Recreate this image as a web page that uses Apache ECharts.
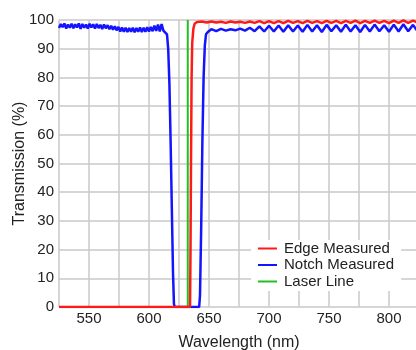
<!DOCTYPE html>
<html>
<head>
<meta charset="utf-8">
<script src="https://cdn.jsdelivr.net/npm/echarts@6/dist/echarts.min.js"></script>
<style>
html,body{margin:0;padding:0;background:#fff;}
#chart{width:416px;height:350px;}
</style>
</head>
<body>
<div id="chart"></div>
<script>
// ---- data ----
const seriesNames = ['Edge Measured', 'Notch Measured', 'Laser Line'];
const xTickValues = [550, 600, 650, 700, 750, 800];
const yTickValues = [0, 10, 20, 30, 40, 50, 60, 70, 80, 90, 100];

const edgeWl = [525, 634.2, 634.6, 635.0, 635.5, 636.0, 637.0, 638.0, 640,
  644, 648, 652, 656, 660, 664, 668, 672, 676, 680, 684, 688, 692, 696, 700,
  704, 708, 712, 716, 720, 724, 728, 732, 736, 740, 744, 748, 752, 756, 760,
  764, 768, 772, 776, 780, 784, 788, 792, 796, 800, 804, 808, 812, 816, 820, 824];
const edgeT = [0, 0, 20, 50, 80, 92, 97, 98.7, 99.3,
  99.5, 99.1, 99.5, 99.1, 99.4, 99.0, 99.5, 99.1, 99.4, 99.0, 99.5, 99.0, 99.6, 98.9, 99.6,
  98.9, 99.6, 98.9, 99.7, 99.0, 99.6, 98.9, 99.7, 99.0, 99.6, 98.9, 99.7, 99.0, 99.7, 98.9,
  99.7, 99.0, 99.8, 98.9, 99.7, 99.0, 99.8, 99.0, 99.7, 98.9, 99.8, 99.0, 99.9, 99.0, 99.8, 99.1];

// notch: noisy pass band below the notch
const notchBandWl = [525, 526.5, 528, 529.5, 531, 532.5, 534, 535.5, 537, 538.5,
  540, 541.5, 543, 544.5, 546, 547.5, 549, 550.5, 552, 553.5,
  555, 556.5, 558, 559.5, 561, 562.5, 564, 565.5, 567, 568.5,
  570, 571.5, 573, 574.5, 576, 577.5, 579, 580.5, 582, 583.5,
  585, 586.5, 588, 589.5, 591, 592.5, 594, 595.5, 597, 598.5,
  600, 601.5, 603, 604.5, 606, 607.5, 609, 610.5, 612];
const notchBandT = [97.2, 98.6, 97.5, 98.8, 97.0, 98.4, 97.3, 98.7, 97.1, 98.5,
  97.4, 98.8, 96.9, 98.6, 97.3, 98.4, 97.0, 98.7, 97.4, 98.5,
  97.0, 98.6, 97.2, 98.3, 96.9, 98.4, 97.1, 98.2, 96.8, 98.0,
  96.6, 97.8, 96.4, 97.6, 96.0, 97.4, 95.9, 97.3, 95.8, 97.2,
  95.9, 97.3, 95.7, 97.2, 95.9, 97.4, 95.8, 97.3, 95.9, 97.5,
  96.0, 97.6, 96.1, 98.0, 96.2, 98.4, 96.0, 98.6, 96.3];
// notch: blocking region and upper pass band
const notchWl = [613.5, 615, 616, 617, 618, 619, 620, 620.8, 621.5,
  641.8, 642.5, 643.5, 644.5, 645.5, 646.5, 647.5, 649,
  652, 656, 660, 664, 668, 672, 676, 680, 684, 688, 692, 696, 700,
  704, 708, 712, 716, 720, 724, 728, 732, 736, 740, 744, 748, 752, 756, 760,
  764, 768, 772, 776, 780, 784, 788, 792, 796, 800, 804, 808, 812, 816, 820, 824];
const notchT = [96.5, 95, 90, 78, 58, 35, 12, 1, 0,
  0, 4, 28, 58, 80, 91, 95, 95.8,
  96.8, 96.1, 96.9, 96.3, 96.8, 96.4, 97.0, 96.3, 97.3, 96.1, 97.8, 96.0, 98.0,
  96.0, 98.1, 95.9, 98.2, 96.0, 98.1, 95.9, 98.3, 96.0, 98.2, 95.8, 98.3, 96.1, 98.2, 95.9,
  98.4, 96.0, 98.2, 95.8, 98.3, 96.0, 98.4, 96.1, 98.2, 95.9, 98.4, 96.0, 98.5, 96.1, 98.3, 96.0];

const laserWl = [632.3, 632.3];
const laserT = [0, 100];

// ---- chart ----
const zip = (xs, ys) => xs.map((x, i) => [x, ys[i]]);
const notchData = zip(notchBandWl, notchBandT).concat(zip(notchWl, notchT));
const chart = echarts.init(document.getElementById('chart'), null, {renderer: 'canvas'});
const font = 'Liberation Sans, Arial, Helvetica, sans-serif';
const gridColor = '#c9c9c9';

chart.setOption({
  animation: false,
  backgroundColor: '#ffffff',
  grid: {left: 59, top: 20, width: 360, bottom: 43, containLabel: false, outerBoundsMode: 'none'},
  legend: {
    data: seriesNames,
    orient: 'vertical',
    left: 251, top: 240,
    padding: [1, 7, 2, 7],
    itemGap: 1.5,
    itemWidth: 19, itemHeight: 2,
    icon: 'rect',
    backgroundColor: '#ffffff',
    textStyle: {fontFamily: font, fontSize: 15, color: '#222', padding: [0, 0, 0, 2]}
  },
  xAxis: {
    type: 'value', min: 525, max: 825, interval: 25,
    name: 'Wavelength (nm)', nameLocation: 'middle', nameGap: 28, nameMoveOverlap: false,
    nameTextStyle: {fontFamily: font, fontSize: 16, color: '#222'},
    axisLine: {show: false}, axisTick: {show: false},
    axisLabel: {
      fontFamily: font, fontSize: 15, color: '#222', margin: 4,
      formatter: v => xTickValues.includes(v) ? String(v) : ''
    },
    splitLine: {show: true, lineStyle: {color: gridColor, width: 1.5}}
  },
  yAxis: {
    type: 'value', min: 0, max: 100, interval: 10,
    name: 'Transmission (%)', nameLocation: 'middle', nameGap: 31, nameMoveOverlap: false,
    nameTextStyle: {fontFamily: font, fontSize: 16, color: '#222'},
    axisLine: {show: false}, axisTick: {show: false},
    axisLabel: {
      fontFamily: font, fontSize: 15, color: '#222', margin: 5,
      formatter: v => yTickValues.includes(v) ? String(v) : ''
    },
    splitLine: {show: true, lineStyle: {color: gridColor, width: 1.5}}
  },
  series: [
    {name: seriesNames[1], type: 'line', data: notchData, showSymbol: false, symbol: 'none',
     lineStyle: {color: '#1414ff', width: 2.5}, itemStyle: {color: '#1414ff'}, z: 2},
    {name: seriesNames[2], type: 'line', data: zip(laserWl, laserT), showSymbol: false, symbol: 'none',
     lineStyle: {color: '#20c020', width: 2}, itemStyle: {color: '#20c020'}, z: 3},
    {name: seriesNames[0], type: 'line', data: zip(edgeWl, edgeT), showSymbol: false, symbol: 'none',
     lineStyle: {color: '#ff1a1a', width: 2.5}, itemStyle: {color: '#ff1a1a'}, z: 4}
  ]
});
</script>
</body>
</html>
